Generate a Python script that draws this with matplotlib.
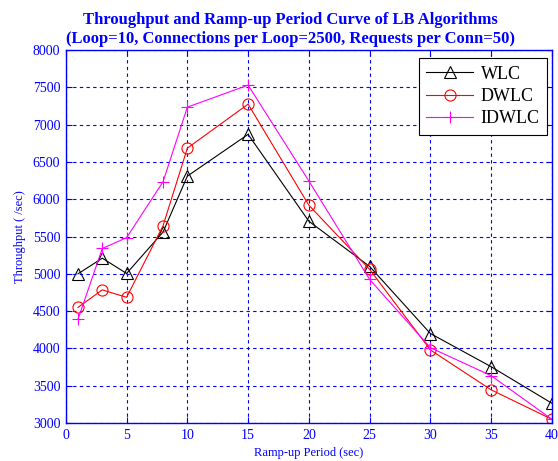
import matplotlib
matplotlib.use('Agg')
import matplotlib.pyplot as plt

ramp_up = [1, 3, 5, 8, 10, 15, 20, 25, 30, 35, 40]
wlc = [5000, 5210, 5005, 5560, 6310, 6870, 5705, 5100, 4200, 3755, 3265]
dwlc = [4550, 4785, 4685, 5645, 6685, 7275, 5920, 5060, 3980, 3445, 3050]
idwlc = [4390, 5340, 5485, 6235, 7235, 7530, 6245, 4925, 4010, 3635, 3050]

x_ticks = [0, 5, 10, 15, 20, 25, 30, 35, 40]
y_ticks = [3000, 3500, 4000, 4500, 5000, 5500, 6000, 6500, 7000, 7500, 8000]

plt.rcParams['font.family'] = ['Liberation Serif', 'DejaVu Serif']

fig = plt.figure(figsize=(5.58, 4.61), dpi=100)
ax = fig.add_axes([0.118, 0.0824, 0.871, 0.809])

ax.plot(ramp_up, wlc, color='black', lw=0.8, marker='^', ms=8,
        mfc='none', mec='black', mew=0.8, label='WLC')
ax.plot(ramp_up, dwlc, color='red', lw=0.8, marker='o', ms=8,
        mfc='none', mec='red', mew=0.8, label='DWLC')
ax.plot(ramp_up, idwlc, color='magenta', lw=0.8, marker='+', ms=9,
        mew=0.8, label='IDWLC')

ax.set_xlim(0, 40)
ax.set_ylim(3000, 8000)
ax.set_xticks(x_ticks)
ax.set_yticks(y_ticks)
ax.grid(True, color='blue', ls=(0, (3, 3)), lw=0.8)
ax.set_axisbelow(True)

for s in ax.spines.values():
    s.set_color('blue')
    s.set_linewidth(1.0)
ax.tick_params(direction='in', colors='blue', labelcolor='blue',
               top=True, right=True, labelsize=10, length=4, pad=4)

ax.set_xlabel('Ramp-up Period (sec)', color='blue', fontsize=9, labelpad=4)
ax.set_ylabel('Throughput ( /sec)', color='blue', fontsize=9, labelpad=5)
ax.set_title('Throughput and Ramp-up Period Curve of LB Algorithms\n'
             '(Loop=10, Connections per Loop=2500, Requests per Conn=50)',
             color='blue', fontsize=12, fontweight='bold', pad=5,
             linespacing=1.3, x=0.462)

leg = ax.legend(loc='upper right', fontsize=13, fancybox=False,
                edgecolor='black', framealpha=1, handlelength=2.6,
                handletextpad=0.4, borderpad=0.4, labelspacing=0.3,
                bbox_to_anchor=(1.008, 1.002))
leg.get_frame().set_linewidth(0.8)

fig.savefig('out.png', dpi=100)
